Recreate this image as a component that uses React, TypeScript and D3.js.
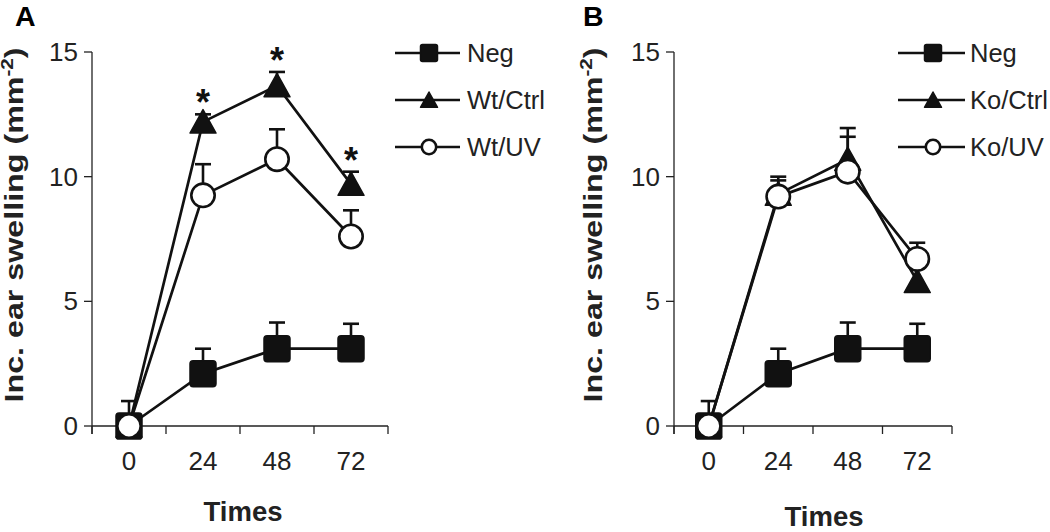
import React from "react";
import * as d3 from "d3";

const times = ["0", "24", "48", "72"];
const yTicks = [0, 5, 10, 15];

const negMean = [0, 2.1, 3.1, 3.1];
const negErr = [1.0, 1.0, 1.05, 1.0];

const wtCtrlMean = [0, 12.2, 13.65, 9.7];
const wtCtrlErr = [0, 0.3, 0.55, 0.5];
const wtUvMean = [0, 9.25, 10.7, 7.6];
const wtUvErr = [0, 1.25, 1.2, 1.05];
const wtSignificant = [false, true, true, true];

const koCtrlMean = [0, 9.3, 10.7, 5.8];
const koCtrlErr = [0, 0.7, 1.25, 0.6];
const koUvMean = [0, 9.2, 10.2, 6.7];
const koUvErr = [0, 0.65, 1.4, 0.65];

type Series = { name: string; mean: number[]; err: number[]; shape: "square" | "triangle" | "circle" };

const FONT = "'Liberation Sans', Arial, sans-serif";

const panels = [
  {
    letter: "A",
    letterX: 15,
    xRange: [92, 388] as [number, number],
    yLabelX: 23,
    timesX: 243,
    timesY: 521,
    legendX: [395, 460, 429, 467],
    series: [
      { name: "Neg", mean: negMean, err: negErr, shape: "square" },
      { name: "Wt/Ctrl", mean: wtCtrlMean, err: wtCtrlErr, shape: "triangle" },
      { name: "Wt/UV", mean: wtUvMean, err: wtUvErr, shape: "circle" },
    ] as Series[],
    drawOrder: [1, 0, 2],
    stars: wtSignificant,
  },
  {
    letter: "B",
    letterX: 583,
    xRange: [674, 952] as [number, number],
    yLabelX: 602,
    timesX: 824,
    timesY: 526,
    legendX: [898, 965, 933, 970],
    series: [
      { name: "Neg", mean: negMean, err: negErr, shape: "square" },
      { name: "Ko/Ctrl", mean: koCtrlMean, err: koCtrlErr, shape: "triangle" },
      { name: "Ko/UV", mean: koUvMean, err: koUvErr, shape: "circle" },
    ] as Series[],
    drawOrder: [0, 1, 2],
    stars: [false, false, false, false],
  },
];

const legendRows = [53, 100, 147];

function Marker({ shape, x, y, s }: { shape: string; x: number; y: number; s: number }) {
  if (shape === "square") {
    const h = s / 2;
    return <rect x={x - h} y={y - h} width={s} height={s} rx={s * 0.12} fill="#111" stroke="#111" strokeWidth={1.5} />;
  }
  if (shape === "triangle") {
    const w = s * 0.5;
    const path = `M${x},${y - s * 0.47} L${x + w},${y + s * 0.43} L${x - w},${y + s * 0.43} Z`;
    return <path d={path} fill="#111" stroke="#111" strokeWidth={1.5} strokeLinejoin="round" />;
  }
  return <circle cx={x} cy={y} r={s / 2 - 1.3} fill="#fff" stroke="#111" strokeWidth={2.6} />;
}

function Panel({ p }: { p: (typeof panels)[number] }) {
  const x = d3.scaleBand<string>().domain(times).range(p.xRange).paddingInner(0).paddingOuter(0);
  const y = d3.scaleLinear().domain([0, 15]).range([426, 52]);
  const cx = (t: string) => (x(t) as number) + x.bandwidth() / 2;
  const line = d3
    .line<number>()
    .x((_, i) => cx(times[i]))
    .y((d) => y(d));
  const axisX = p.xRange[0];
  const boundaries = times.map((t) => x(t) as number).concat([p.xRange[1]]);
  const yMid = 225;

  return (
    <g>
      <text x={p.letterX} y={26} fontFamily={FONT} fontWeight="bold" fontSize={28.5}>
        {p.letter}
      </text>
      {/* y axis */}
      <line x1={axisX} x2={axisX} y1={y(15)} y2={y(0) + 8} stroke="#222" strokeWidth={1.3} />
      {yTicks.map((t) => (
        <g key={t}>
          <line x1={axisX - 8} x2={axisX} y1={y(t)} y2={y(t)} stroke="#222" strokeWidth={1.3} />
          <text
            x={axisX - 14}
            y={y(t)}
            textAnchor="end"
            dominantBaseline="central"
            fontFamily={FONT}
            fontSize={26}
            fill="#222"
          >
            {t}
          </text>
        </g>
      ))}
      {/* x axis */}
      <line x1={axisX} x2={p.xRange[1]} y1={y(0)} y2={y(0)} stroke="#222" strokeWidth={1.3} />
      {boundaries.map((b, i) => (
        <line key={i} x1={b} x2={b} y1={y(0)} y2={y(0) + 8} stroke="#222" strokeWidth={1.3} />
      ))}
      {times.map((t) => (
        <text key={t} x={cx(t)} y={470} textAnchor="middle" fontFamily={FONT} fontSize={26} fill="#222">
          {t}
        </text>
      ))}
      <text x={p.timesX} y={p.timesY} textAnchor="middle" fontFamily={FONT} fontWeight="bold" fontSize={27.5} fill="#222">
        Times
      </text>
      <text
        transform={`translate(${p.yLabelX},${yMid}) rotate(-90)`}
        textAnchor="middle"
        fontFamily={FONT}
        fontWeight="bold"
        fontSize={25}
        fill="#222"
        textLength={355}
        lengthAdjust="spacingAndGlyphs"
      >
        Inc. ear swelling (mm
        <tspan fontSize={16} dy={-10}>
          -2
        </tspan>
        <tspan dy={10}>)</tspan>
      </text>

      {/* lines and error bars */}
      {p.drawOrder.map((si) => {
        const s = p.series[si];
        return (
          <g key={"l" + si}>
            {s.mean.map((m, i) =>
              s.err[i] > 0 ? (
                <g key={i}>
                  <line x1={cx(times[i])} x2={cx(times[i])} y1={y(m)} y2={y(m + s.err[i])} stroke="#111" strokeWidth={2.6} />
                  <line
                    x1={cx(times[i]) - 8}
                    x2={cx(times[i]) + 8}
                    y1={y(m + s.err[i])}
                    y2={y(m + s.err[i])}
                    stroke="#111"
                    strokeWidth={2.6}
                  />
                </g>
              ) : null
            )}
            <path d={line(s.mean) as string} fill="none" stroke="#111" strokeWidth={2.7} />
          </g>
        );
      })}
      {p.drawOrder.map((si) => {
        const s = p.series[si];
        return (
          <g key={"m" + si}>
            {s.mean.map((m, i) => (
              <Marker key={i} shape={s.shape} x={cx(times[i])} y={y(m)} s={26} />
            ))}
          </g>
        );
      })}
      {/* significance stars */}
      {p.stars.map((st, i) => {
        if (!st) return null;
        const s = p.series[1];
        return (
          <text
            key={"s" + i}
            x={cx(times[i])}
            y={y(s.mean[i] + s.err[i]) + 1}
            textAnchor="middle"
            fontFamily={FONT}
            fontWeight="bold"
            fontSize={36}
            fill="#111"
          >
            *
          </text>
        );
      })}
      {/* legend */}
      {p.series.map((s, i) => (
        <g key={"lg" + i}>
          <line x1={p.legendX[0]} x2={p.legendX[1]} y1={legendRows[i]} y2={legendRows[i]} stroke="#111" strokeWidth={2.7} />
          <Marker shape={s.shape} x={p.legendX[2]} y={legendRows[i]} s={17} />
          <text
            x={p.legendX[3]}
            y={legendRows[i]}
            dominantBaseline="central"
            fontFamily={FONT}
            fontSize={25.5}
            fill="#222"
          >
            {s.name}
          </text>
        </g>
      ))}
    </g>
  );
}

export default function App() {
  return (
    <svg width={1050} height={532} style={{ display: "block", position: "absolute", left: 0, top: 0, background: "#fff" }}>
      <rect width={1050} height={532} fill="#fff" />
      {panels.map((p) => (
        <Panel key={p.letter} p={p} />
      ))}
    </svg>
  );
}
